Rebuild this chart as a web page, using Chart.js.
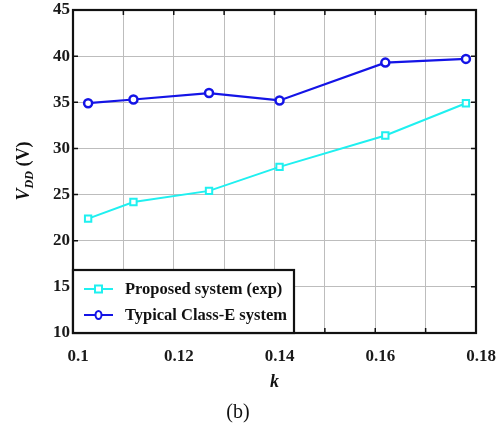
<!DOCTYPE html>
<html>
<head>
<meta charset="utf-8">
<script src="https://cdn.jsdelivr.net/npm/chart.js@4.4.1/dist/chart.umd.min.js"></script>
<style>
  html,body{margin:0;padding:0;background:#fff;}
  canvas{display:block;}
</style>
</head>
<body>
<canvas id="vddChart" width="499" height="423"></canvas>
<script>
/* ── DATA ─────────────────────────────────────────────── */
const kProposed  = [0.103, 0.112, 0.127, 0.141, 0.162, 0.178];
const vProposed  = [22.4, 24.2, 25.4, 28.0, 31.4, 34.9];
const kTypical   = [0.103, 0.112, 0.127, 0.141, 0.162, 0.178];
const vTypical   = [34.9, 35.3, 36.0, 35.2, 39.3, 39.7];
const seriesNames = ['Proposed system (exp)', 'Typical Class-E system'];
const xRange = [0.1, 0.18];
const yRange = [10, 45];

const SERIF = '"Liberation Serif", "Times New Roman", serif';
const CYAN = '#1ff0f0';
const BLUE = '#1414e6';

function toPoints(xs, ys){ return xs.map((x,i)=>({x, y:ys[i]})); }

/* ── FRAME, INNER TICKS, LEGEND, Y TITLE ──────────────── */
const framePlugin = {
  id:'frame',
  afterDraw(chart){
    const {ctx, chartArea:a, scales:{x, y}} = chart;
    ctx.save();
    // inner tick marks
    ctx.strokeStyle = '#111'; ctx.lineWidth = 1.5;
    x.ticks.forEach(t=>{
      const px = x.getPixelForValue(t.value);
      ctx.beginPath();
      ctx.moveTo(px, a.top); ctx.lineTo(px, a.top+5);
      ctx.moveTo(px, a.bottom); ctx.lineTo(px, a.bottom-5);
      ctx.stroke();
    });
    y.ticks.forEach(t=>{
      const py = y.getPixelForValue(t.value);
      ctx.beginPath();
      ctx.moveTo(a.left, py); ctx.lineTo(a.left+5, py);
      ctx.moveTo(a.right, py); ctx.lineTo(a.right-5, py);
      ctx.stroke();
    });
    // frame
    ctx.strokeStyle = '#111'; ctx.lineWidth = 2.2;
    ctx.strokeRect(a.left, a.top, a.right-a.left, a.bottom-a.top);

    // legend box (bottom-left inside the axes)
    const lx = a.left, lw = 221, lh = 63, ly = a.bottom - lh;
    ctx.fillStyle = '#fff';
    ctx.fillRect(lx, ly, lw, lh);
    ctx.strokeStyle = '#111'; ctx.lineWidth = 2.2;
    ctx.strokeRect(lx, ly, lw, lh);
    chart.data.datasets.forEach((ds,i)=>{
      const cy = ly + 19 + i*26;
      ctx.strokeStyle = ds.borderColor; ctx.lineWidth = 2;
      ctx.beginPath(); ctx.moveTo(lx+11, cy); ctx.lineTo(lx+40, cy); ctx.stroke();
      ctx.fillStyle = '#fff';
      if(ds.pointStyle==='rect'){
        ctx.fillRect(lx+22, cy-3.5, 7, 7); ctx.strokeRect(lx+22, cy-3.5, 7, 7);
      } else {
        ctx.beginPath(); ctx.ellipse(lx+25.5, cy, 3, 4, 0, 0, Math.PI*2);
        ctx.fill(); ctx.stroke();
      }
      ctx.fillStyle = '#111';
      ctx.font = 'bold 16.5px ' + SERIF;
      ctx.textAlign = 'left'; ctx.textBaseline = 'middle';
      ctx.fillText(ds.label, lx+52, cy+1);
    });

    // y-axis title: V_DD (V), rotated
    ctx.translate(23, 171);
    ctx.rotate(-Math.PI/2);
    ctx.fillStyle = '#111';
    ctx.textBaseline = 'alphabetic';
    const parts = [
      {t:'V',   f:'italic bold 18px ', dy:0},
      {t:'DD',  f:'italic bold 12px ', dy:4},
      {t:' (V)',f:'bold 18px ',        dy:0}
    ];
    let w = 0;
    parts.forEach(p=>{ ctx.font = p.f+SERIF; w += ctx.measureText(p.t).width; });
    let cx = -w/2;
    ctx.textAlign = 'left';
    parts.forEach(p=>{
      ctx.font = p.f+SERIF;
      ctx.fillText(p.t, cx, 6+p.dy);
      cx += ctx.measureText(p.t).width;
    });
    ctx.restore();
  }
};

/* ── CHART ────────────────────────────────────────────── */
new Chart(document.getElementById('vddChart'), {
  type:'line',
  data:{
    datasets:[
      { label:seriesNames[0], data:toPoints(kProposed, vProposed),
        borderColor:CYAN, backgroundColor:'#fff', borderWidth:2,
        pointStyle:'rect', pointRadius:4.5, pointBorderWidth:2, pointBackgroundColor:'#fff', tension:0 },
      { label:seriesNames[1], data:toPoints(kTypical, vTypical),
        borderColor:BLUE, backgroundColor:'#fff', borderWidth:2.2,
        pointStyle:'circle', pointRadius:4, pointBorderWidth:2.5, pointBackgroundColor:'#fff', tension:0 }
    ]
  },
  options:{
    responsive:false, animation:false, devicePixelRatio:1,
    layout:{ autoPadding:false, padding:{ top:10, right:23, left:0, bottom:0 } },
    plugins:{
      legend:{ display:false },
      tooltip:{ enabled:false },
      title:{ display:true, position:'bottom', text:'(b)', color:'#111',
              font:{ family:SERIF, size:20, weight:'normal', lineHeight:1.0 }, padding:0 }
    },
    scales:{
      x:{
        type:'linear', min:xRange[0], max:xRange[1],
        afterFit:s=>{ s.height = 70; s.paddingLeft = 0; s.paddingRight = 0; },
        afterBuildTicks:s=>{
          const t = [];
          for(let i=0;i<=8;i++) t.push({value: Math.round((xRange[0]+i*0.01)*1000)/1000});
          s.ticks = t;
        },
        grid:{ color:'#bdbdbd', lineWidth:1, drawTicks:false },
        border:{ display:false },
        ticks:{
          padding:13, color:'#1a1a1a', labelOffset:5,
          font:{ family:SERIF, size:17, weight:'bold' },
          autoSkip:false, maxRotation:0,
          callback:v=>{ const n = Math.round(v*100); return n%2===0 ? String(n/100) : ''; }
        },
        title:{ display:true, text:'k', color:'#111',
                font:{ family:SERIF, size:18, style:'italic', weight:'bold', lineHeight:1.2 },
                padding:{ top:0, bottom:10 } }
      },
      y:{
        min:yRange[0], max:yRange[1],
        afterFit:s=>{ s.width = 73; s.paddingTop = 0; s.paddingBottom = 0; },
        grid:{ color:'#bdbdbd', lineWidth:1, drawTicks:false },
        border:{ display:false },
        ticks:{ stepSize:5, padding:3, color:'#1a1a1a',
                font:{ family:SERIF, size:17, weight:'bold' } }
      }
    }
  },
  plugins:[framePlugin]
});
</script>
</body>
</html>
